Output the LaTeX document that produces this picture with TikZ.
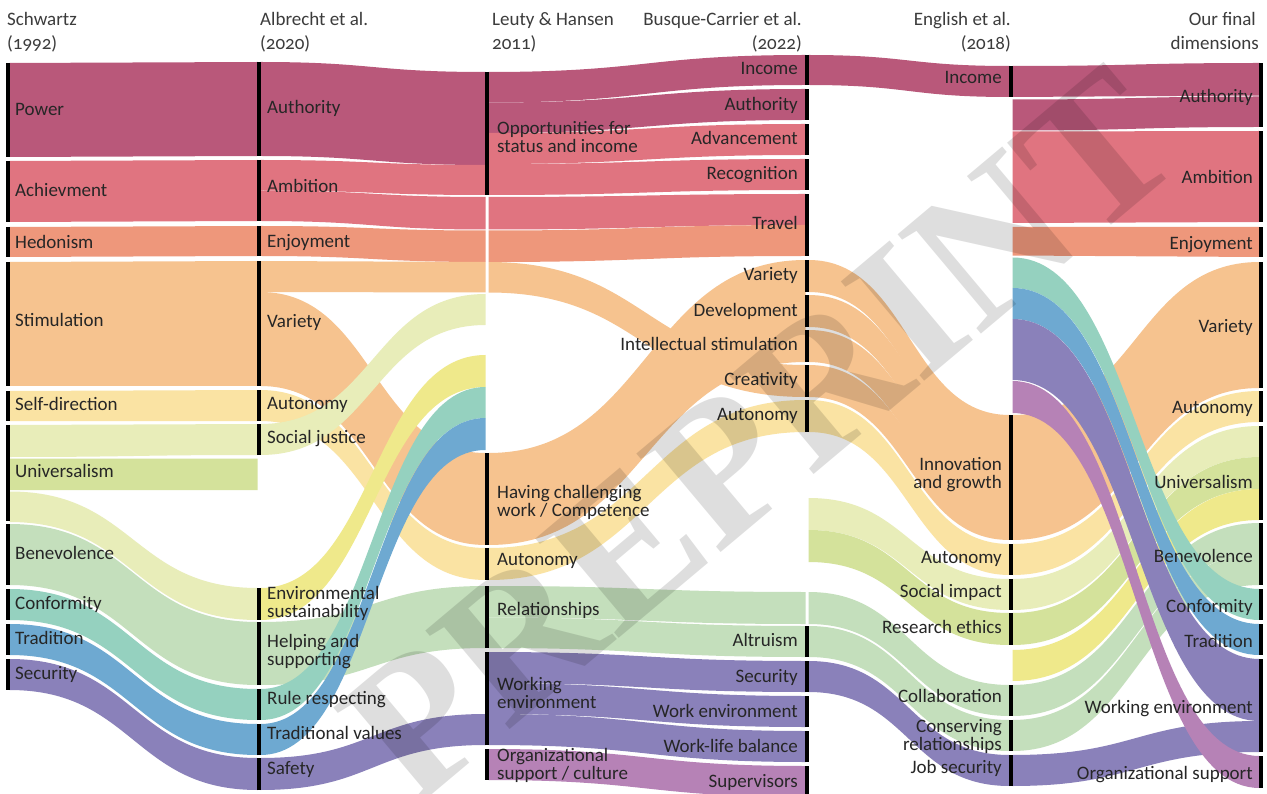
\documentclass[tikz,border=0pt]{standalone}
\usepackage{fontspec}
\setmainfont{Carlito}[Numbers=OldStyle]
\newfontfamily\wmfont{Liberation Serif}
\usetikzlibrary{positioning}
\definecolor{cpow}{HTML}{B9587A}
\definecolor{cach}{HTML}{E07480}
\definecolor{ched}{HTML}{EE977B}
\definecolor{csti}{HTML}{F6C38F}
\definecolor{csel}{HTML}{FAE3A3}
\definecolor{cunil}{HTML}{E8EDB9}
\definecolor{cuni}{HTML}{D4E29B}
\definecolor{cyel}{HTML}{EFE98B}
\definecolor{cben}{HTML}{C4DFBC}
\definecolor{ccon}{HTML}{95D1BF}
\definecolor{ctra}{HTML}{6EA9D1}
\definecolor{csec}{HTML}{8A81BA}
\definecolor{corg}{HTML}{B682B6}
\definecolor{txt}{HTML}{262626}
\definecolor{hdrc}{HTML}{3C3C3C}

% one flow: colour, x1, top1, bottom1, x2, top2, bottom2
\newcommand{\band}[7]{\fill[#1] (#2,#3) .. controls ({(#2+#5)/2},#3) and ({(#2+#5)/2},#6) .. (#5,#6) -- (#5,#7) .. controls ({(#2+#5)/2},#7) and ({(#2+#5)/2},#4) .. (#2,#4) -- cycle}

\begin{document}
\begin{tikzpicture}[x=1pt,y=-1pt,
  bar/.style={fill=black,inner sep=0pt,minimum width=3.2pt},
  lblL/.style={anchor=west,inner sep=0pt,text height=12.2pt,text depth=0pt,text=txt,font=\fontsize{19}{18}\selectfont},
  lblLm/.style={anchor=west,inner sep=0pt,align=left,text=txt,font=\fontsize{19}{18}\selectfont},
  lblR/.style={anchor=east,inner sep=0pt,text height=12.2pt,text depth=0pt,text=txt,font=\fontsize{19}{18}\selectfont},
  lblRm/.style={anchor=east,inner sep=0pt,align=right,text=txt,font=\fontsize{19}{18}\selectfont},
  hdrL/.style={anchor=base west,inner sep=0pt,text=hdrc,font=\fontsize{19}{24}\selectfont},
  hdrR/.style={anchor=base east,inner sep=0pt,text=hdrc,font=\fontsize{19}{24}\selectfont},
  wm/.style={inner sep=0pt,text=black,opacity=0.13,font=\wmfont\bfseries\fontsize{198}{198}\selectfont}
]
\useasboundingbox (0,0) rectangle (1267,794);
\fill[white] (0,0) rectangle (1267,794);

% Schwartz -> Albrecht
\foreach \c/\ta/\ba/\tb/\bb in {cpow/63/157/62/156, cach/161/222/160/221, ched/227/257/226/256,
  csti/262/386/261/386, csel/391/421/390/421, cunil/425/457/424/455, cuni/458.5/490/458.5/490,
  cunil/491.5/522/588/620, cben/524/585/622/685, ccon/589/620/689/720, ctra/624/655/724/755,
  csec/659/690/758/790}
  \band{\c}{9.5}{\ta}{\ba}{257.5}{\tb}{\bb};

% Albrecht -> Leuty & Hansen
\foreach \c/\ta/\ba/\tb/\bb in {cpow/62/156/72/165, cach/160/190.5/165/195, cach/190.5/221/197/229.5,
  ched/226/256/230.5/262, csti/261/292/262/292.5, csti/292/386/453/545, csel/390/421/548/580,
  cben/622/685/586/648, cunil/424/455/294/325, cyel/588/620/355/387, ccon/689/720/387/418,
  ctra/724/755/418/450, csec/758/790/714/745}
  \band{\c}{260.5}{\ta}{\ba}{485.5}{\tb}{\bb};

% Leuty & Hansen -> Busque-Carrier
\foreach \c/\ta/\ba/\tb/\bb in {cpow/72/102.5/55/85, cpow/102.5/133/89/120, cach/133/164/124/155,
  cach/164/195/159/190, cach/197/229.5/194/225, ched/230.5/262/225/256, csti/262/292.5/365/397,
  csti/453/545/260/362, csel/548/580/400/432,
  cben/586/617.5/592/624, cben/617.5/648/626/657, csec/652/683/661/692, csec/683/714/696/727,
  csec/714/745/731/762, corg/749/780/766/797}
  \band{\c}{488.5}{\ta}{\ba}{805.5}{\tb}{\bb};

% Busque-Carrier -> English
\foreach \c/\ta/\ba/\tb/\bb in {cpow/55/85/66/97, csti/260/292/415/449, csti/295/327/443/480,
  csti/330/362/474/512, csti/365/397/506/540, csel/400/432/544/575, cunil/498/530/579/610,
  cuni/530/562/613/645, cben/592/624/685/716, cben/626/657/720/751, csec/661/692/755/786}
  \band{\c}{808.5}{\ta}{\ba}{1009.5}{\tb}{\bb};

% English -> final dimensions
\foreach \c/\ta/\ba/\tb/\bb in {cpow/66/97/63/95.5, cpow/99.5/130.5/96.5/127, cach/131.5/223/131/222,
  ched/227/255.5/227/257, csti/415/540/262/388, csel/544/575/391/422, cunil/579/610/426/457,
  cuni/613/645/457/489, cyel/650/681/489/520, cben/685/716/523/554, cben/720/751/554/585,
  csec/755/786/721/752, ccon/257.5/288/589/620, ctra/288/319/624/655, csec/319/380/659/721,
  corg/381/413/756/788}
  \band{\c}{1012.5}{\ta}{\ba}{1259.5}{\tb}{\bb};

% columns: bars and labels
\foreach \n/\t/\b/\ly/\st/\txt in {pow/63/157/109/lblL/Power, ach/161/222/190/lblL/Achievment,
  hed/227/257/242/lblL/Hedonism, sti/262/386/320/lblL/Stimulation, sel/391/421/404/lblL/Self-direction,
  uni/425/521/471/lblL/Universalism, ben/524/585/553/lblL/Benevolence, con/589/620/603/lblL/Conformity,
  tra/624/655/638/lblL/Tradition, sec/659/690/673/lblL/Security}{
  \node[bar,minimum height={(\b-\t)*1pt}] (s-\n) at (8,{(\t+\b)/2}) {};
  \node[\st] (ls-\n) at (15,\ly) {\txt};
}
\foreach \n/\t/\b/\ly/\st/\txt in {aut/62/156/107/lblL/Authority, amb/160/221/186/lblL/Ambition,
  enj/226/256/241/lblL/Enjoyment, var/261/386/321/lblL/Variety, auto/390/421/403/lblL/Autonomy,
  soc/424/455/437/lblL/Social justice, env/588/620/603/lblLm/{Environmental\\sustainability},
  hel/622/685/652/lblLm/{Helping and\\supporting}, rul/689/720/698/lblL/Rule respecting,
  trv/724/755/733/lblL/Traditional values, saf/758/790/768/lblL/Safety}{
  \node[bar,minimum height={(\b-\t)*1pt}] (a-\n) at (259,{(\t+\b)/2}) {};
  \node[\st] (la-\n) at (267,\ly) {\txt};
}
\foreach \n/\t/\b/\ly/\st/\txt in {opp/72/195/137/lblLm/{Opportunities for\\status and income},
  hav/453/545/502/lblLm/{Having challenging\\work / Competence}, auto/548/580/559/lblL/Autonomy,
  rel/586/648/609/lblL/Relationships, wor/652/745/693/lblLm/{Working\\environment},
  org/749/780/765/lblLm/{Organizational\\support / culture}}{
  \node[bar,minimum height={(\b-\t)*1pt}] (h-\n) at (487,{(\t+\b)/2}) {};
  \node[\st] (lh-\n) at (497,\ly) {\txt};
}
\foreach \n/\t/\b/\ly/\st/\txt in {inc/55/85/68/lblR/Income, aut/89/120/104/lblR/Authority,
  adv/124/155/138/lblR/Advancement, rec/159/190/173/lblR/Recognition, tra/194/256/223/lblR/Travel,
  var/260/292/274/lblR/Variety, dev/295/327/310/lblR/Development,
  int/330/362/344/lblR/Intellectual stimulation, cre/365/397/379/lblR/Creativity,
  auto/400/432/414/lblR/Autonomy, alt/626/657/640/lblR/Altruism, sec/661/692/676/lblR/Security,
  wen/696/727/711/lblR/Work environment, wlb/731/762/746/lblR/Work-life balance,
  sup/766/797/781/lblR/Supervisors}{
  \node[bar,minimum height={(\b-\t)*1pt}] (b-\n) at (807,{(\t+\b)/2}) {};
  \node[\st] (lb-\n) at (798,\ly) {\txt};
}
\foreach \n/\t/\b/\ly/\st/\txt in {inc/66/97/77/lblR/Income, inn/415/540/475/lblRm/{Innovation\\and growth},
  auto/544/575/557/lblR/Autonomy, soc/579/610/591/lblR/Social impact,
  res/613/645/627/lblR/Research ethics, col/685/716/696/lblR/Collaboration,
  cons/720/751/736/lblRm/{Conserving\\relationships}, job/755/786/767/lblR/Job security}{
  \node[bar,minimum height={(\b-\t)*1pt}] (e-\n) at (1011,{(\t+\b)/2}) {};
  \node[\st] (le-\n) at (1002,\ly) {\txt};
}
\foreach \n/\t/\b/\ly/\st/\txt in {aut/63/127/96/lblR/Authority, amb/131/222/177/lblR/Ambition,
  enj/227/257/243/lblR/Enjoyment, var/262/388/326/lblR/Variety, auto/391/422/407/lblR/Autonomy,
  uni/426/520/482/lblR/Universalism, ben/523/585/556/lblR/Benevolence, con/589/620/606/lblR/Conformity,
  tra/624/655/641/lblR/Tradition, wor/659/752/707/lblR/Working environment,
  org/756/788/773/lblR/Organizational support}{
  \node[bar,minimum height={(\b-\t)*1pt}] (f-\n) at (1261,{(\t+\b)/2}) {};
  \node[\st] (lf-\n) at (1253,\ly) {\txt};
}

% column headers
\node[hdrL] (hd1) at (7,26) {Schwartz};
\node[hdrL] at (7,50) {(1992)};
\node[hdrL] (hd2) at (260,26) {Albrecht et al.};
\node[hdrL] at (260,50) {(2020)};
\node[hdrL] (hd3) at (492,26) {Leuty \& Hansen};
\node[hdrL] at (492,50) {2011)};
\node[hdrR] (hd4) at (802,26) {Busque-Carrier et al.};
\node[hdrR] at (802,50) {(2022)};
\node[hdrR] (hd5) at (1011,26) {English et al.};
\node[hdrR] at (1011,50) {(2018)};
\node[hdrR] (hd6) at (1256,26) {Our final};
\node[hdrR] at (1259,50) {dimensions};

% watermark
\node[wm,rotate=40] (mark) at (760,435) {PREPRINT};
\end{tikzpicture}
\end{document}
